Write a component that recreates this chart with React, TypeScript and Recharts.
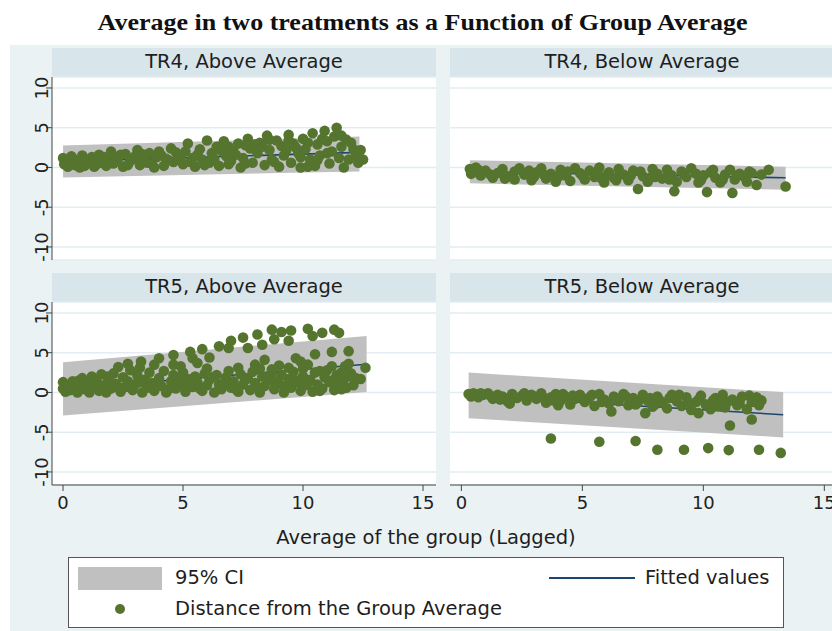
import {
  Area,
  CartesianGrid,
  ComposedChart,
  Line,
  Scatter,
  XAxis,
  YAxis,
} from "recharts";

const SANS = "'DejaVu Sans', sans-serif";
const BG = "#eaf2f3";
const STRIP = "#d8e5ea";
const DOT = "#55752f";
const FIT = "#1a476f";
const BAND = "#c0c0c0";
const AXIS = "#454545";

const yTicks = [-10, -5, 0, 5, 10];
const xTicks = [0, 5, 10, 15];
const yDomain: [number, number] = [-11.64, 11.38];

// TR4, Above Average
const tr4AbovePts = [
  [0, 1.2], [0.05, 0.4], [0.1, 0.9], [0.2, 0.1], [0.3, 0.6], [0.4, 1.1], [0.5, 0.3], [0.6, 0.8],
  [0.8, 1.5], [0.9, 0.2], [1.0, 0.7], [1.2, 1.3], [1.3, 0.1], [1.5, 1.6], [1.6, 0.6], [1.8, 0.2],
  [1.9, 1.0], [2.0, 2.0], [2.1, 0.5], [2.3, 1.2], [2.5, 0.1], [2.6, 1.7], [2.8, 0.8], [3.0, 1.4],
  [3.1, 2.2], [3.2, 0.3], [3.4, 1.0], [3.6, 1.8], [3.7, 0.5], [3.9, 1.3], [4.0, 2.0], [4.2, 0.2],
  [4.3, 1.1], [4.5, 2.4], [4.6, 0.7], [4.8, 1.6], [5.0, 0.4], [5.1, 2.0], [5.2, 3.0], [5.4, 1.2],
  [5.5, 0.1], [5.7, 2.3], [5.8, 1.0], [6.0, 3.4], [6.1, 0.6], [6.2, 1.8], [6.4, 2.6], [6.5, 0.2],
  [6.7, 3.3], [6.8, 1.4], [7.0, 0.8], [7.1, 2.0], [7.3, 3.0], [7.4, 0.0], [7.5, 1.2], [7.7, 3.6],
  [7.8, 2.4], [7.9, 0.6], [8.1, 1.8], [8.2, 3.1], [8.4, 0.3], [8.5, 4.0], [8.6, 2.2], [8.7, 1.0],
  [8.9, 3.4], [9.0, 0.1], [9.1, 2.7], [9.2, 1.5], [9.4, 4.1], [9.5, 0.6], [9.6, 3.0], [9.8, 1.8],
  [9.9, 0.0], [10.0, 3.6], [10.1, 2.3], [10.3, 1.0], [10.4, 4.3], [10.5, 0.2], [10.6, 2.9],
  [10.7, 1.5], [10.9, 4.6], [11.0, 3.3], [11.1, 0.5], [11.2, 2.0], [11.3, 3.9], [11.4, 5.0],
  [11.5, 1.2], [11.6, 2.6], [11.7, 0.0], [11.8, 3.5], [11.9, 1.0], [12.1, 2.3], [12.3, 0.6],
  [12.5, 1.0], [12.2, 1.5], [10.2, 3.1], [9.7, 2.5], [8.3, 2.6],
  [0.15, 0.6], [0.35, 1.4], [0.7, 0.0], [1.1, 1.0], [1.4, 0.4], [1.7, 1.3], [2.2, 0.9], [2.4, 1.6],
  [2.7, 0.3], [2.9, 1.1], [3.3, 1.7], [3.5, 0.6], [3.8, 0.0], [4.1, 1.5], [4.4, 0.9], [4.7, 1.9],
  [4.9, 1.2], [5.3, 0.7], [5.6, 1.6], [5.9, 0.3], [6.3, 1.1], [6.6, 2.1], [6.9, 0.4], [7.2, 1.6],
  [7.6, 0.5], [8.0, 2.9], [8.8, 0.7], [9.3, 2.2], [9.9, 1.3], [10.6, 0.9], [10.8, 3.6],
  [11.0, 1.8], [11.6, 4.0], [12.0, 3.1], [12.4, 2.2], [10.2, 0.1], [9.4, 3.4], [8.6, 3.5],
  [7.6, 2.8], [6.9, 2.6],
];
const tr4AboveCiX = [0, 12.35];
const tr4AboveLow = [-1.25, -0.5];
const tr4AboveHigh = [2.75, 3.9];
const tr4AboveFit = [0.75, 1.9];

// TR4, Below Average
const tr4BelowPts = [
  [0.35, -0.2], [0.5, -0.6], [0.6, 0.0], [0.8, -1.0], [1.0, -0.4], [1.3, -1.3], [1.5, -0.7],
  [1.7, -0.2], [2.0, -1.1], [2.2, -0.5], [2.4, -0.1], [2.6, -0.9], [2.9, -1.6], [3.1, -0.6],
  [3.3, -0.1], [3.5, -1.4], [3.7, -0.8], [3.9, -1.8], [4.1, -0.3], [4.3, -1.0], [4.5, -1.7],
  [4.7, -0.1], [4.9, -0.7], [5.1, -1.5], [5.3, -0.4], [5.5, -1.2], [5.7, 0.0], [5.9, -1.9],
  [6.1, -0.6], [6.3, -1.3], [6.5, -0.2], [6.7, -0.9], [6.9, -1.6], [7.1, -0.4], [7.3, -2.7],
  [7.5, -1.1], [7.7, -1.8], [7.9, -0.2], [8.1, -0.8], [8.3, -1.4], [8.5, -0.3], [8.7, -1.0],
  [8.8, -3.0], [8.9, -1.8], [9.1, -0.5], [9.3, -1.2], [9.5, -0.1], [9.7, -0.8], [9.9, -1.6],
  [10.15, -3.1], [10.3, -0.6], [10.5, -1.3], [10.7, -1.9], [10.9, -0.9], [11.1, -0.3],
  [11.2, -3.2], [11.3, -1.5], [11.5, -0.8], [11.7, -1.2], [11.9, -0.5], [12.2, -2.2],
  [12.7, -0.3], [13.4, -2.4], [6.0, -1.0], [4.0, -1.2], [2.2, -1.5], [10.0, -1.0], [8.0, -1.2],
  [0.4, -0.8], [0.7, -0.3], [1.2, -0.9], [1.8, -1.4], [2.8, -0.4], [3.4, -0.9], [4.4, -0.5],
  [5.0, -1.0], [5.6, -0.6], [6.4, -1.6], [7.0, -1.0], [7.4, -0.5], [8.6, -1.5], [9.2, -0.9],
  [9.8, -1.9], [10.4, -0.3], [10.8, -1.5], [11.4, -1.0], [11.8, -1.8], [12.0, -0.7],
  [12.4, -0.9], [3.0, -1.2], [5.8, -1.4], [7.8, -1.3],
];
const tr4BelowCiX = [0.35, 13.4];
const tr4BelowLow = [-2.0, -2.8];
const tr4BelowHigh = [0.9, 0.1];
const tr4BelowFit = [-0.5, -1.3];

// TR5, Above Average
const tr5AbovePts = [
  [0, 1.3], [0, 0.5], [0.1, 0.1], [0.2, 0.9], [0.3, 0.3], [0.4, 1.4], [0.5, 0.6], [0.6, 0.0],
  [0.7, 1.0], [0.8, 1.8], [0.9, 0.4], [1.0, 1.2], [1.1, 0.0], [1.2, 2.0], [1.3, 0.7], [1.4, 1.5],
  [1.5, 0.2], [1.6, 2.3], [1.7, 0.9], [1.8, 0.0], [1.9, 1.6], [2.0, 0.5], [2.1, 2.4], [2.2, 1.1],
  [2.4, 0.1], [2.5, 1.9], [2.6, 0.7], [2.7, 1.4], [2.8, 2.8], [2.9, 0.3], [3.0, 1.0], [3.1, 2.1],
  [3.3, 0.0], [3.4, 1.6], [3.5, 0.6], [3.6, 2.5], [3.7, 1.2], [3.8, 0.2], [4.0, 1.8], [4.1, 0.8],
  [4.2, 2.7], [4.3, 0.0], [4.5, 1.4], [4.6, 2.2], [4.7, 0.5], [4.9, 1.1], [5.0, 2.5], [5.1, 0.1],
  [5.2, 1.7], [5.4, 0.7], [5.5, 2.0], [5.6, 1.3], [5.8, 0.2], [5.9, 2.4], [6.0, 0.9], [6.1, 1.6],
  [6.3, 0.0], [6.4, 2.2], [6.5, 1.0], [6.6, 0.4], [6.8, 1.9], [6.9, 2.7], [7.0, 0.6], [7.1, 1.4],
  [7.3, 0.1], [7.4, 2.3], [7.5, 1.0], [7.7, 1.8], [7.8, 0.3], [7.9, 2.6], [8.0, 1.2], [8.2, 0.0],
  [8.3, 2.0], [8.4, 0.8], [8.6, 1.5], [8.7, 2.9], [8.8, 0.4], [9.0, 1.1], [9.1, 2.2], [9.2, 0.0],
  [9.4, 1.7], [9.5, 0.6], [9.6, 2.6], [9.8, 1.3], [9.9, 0.2], [10.0, 2.0], [10.1, 0.9],
  [10.3, 1.6], [10.4, 0.1], [10.5, 2.5], [10.6, 1.0], [10.8, 0.5], [10.9, 1.9], [11.0, 2.8],
  [11.1, 1.3], [11.3, 0.3], [11.4, 2.2], [11.5, 1.0], [11.7, 1.6], [11.8, 0.6], [12.0, 2.4],
  [12.2, 1.8],
  [2.3, 3.2], [2.7, 3.6], [3.2, 3.1], [3.25, 3.9], [3.8, 3.5], [4.0, 4.3], [4.6, 3.5], [4.6, 4.7],
  [5.3, 5.1], [5.4, 4.3], [5.8, 5.45], [6.1, 4.4], [6.5, 5.8], [6.9, 5.6], [7.0, 6.5], [7.3, 3.1],
  [7.5, 6.9], [7.7, 5.6], [8.0, 3.5], [8.1, 7.3], [8.3, 6.0], [8.4, 4.1], [8.7, 7.9], [8.7, 2.5],
  [8.8, 6.7], [9.1, 7.6], [9.4, 6.5], [9.4, 3.1], [9.5, 7.8], [9.7, 4.3], [10.2, 8.0], [10.2, 3.5],
  [10.4, 7.1], [10.5, 4.8], [10.8, 7.5], [11.2, 5.1], [11.2, 3.3], [11.3, 7.9], [11.5, 7.5],
  [11.6, 0.4], [11.75, 3.3], [11.9, 5.2], [12.0, 2.0], [12.6, 3.1], [11.7, 0.8], [9.0, 3.4],
  [9.9, 3.9], [10.7, 2.7], [11.9, 3.6],
  [0.25, 0.6], [0.65, 1.5], [1.05, 0.5], [1.45, 0.9], [1.85, 2.0], [2.3, 0.6], [2.75, 1.0],
  [3.2, 1.3], [3.9, 0.9], [4.4, 0.4], [4.8, 1.7], [5.3, 1.0], [5.7, 0.5], [6.2, 1.9], [6.7, 1.2],
  [7.2, 0.4], [7.6, 1.6], [8.1, 0.6], [8.5, 1.9], [8.9, 1.4], [9.3, 0.9], [9.7, 1.5], [10.2, 1.2],
  [10.7, 0.2], [11.2, 1.5], [11.6, 2.5], [12.1, 0.9], [12.4, 1.7], [10.0, 3.0], [8.2, 3.0],
  [6.0, 3.0], [5.6, 3.7], [4.9, 3.3],
];
const tr5AboveCiX = [0, 12.65];
const tr5AboveLow = [-2.9, 0.05];
const tr5AboveHigh = [3.8, 7.1];
const tr5AboveFit = [0.45, 3.55];

// TR5, Below Average
const tr5BelowPts = [
  [0.3, -0.2], [0.5, -0.1], [0.7, -0.6], [0.9, -0.3], [1.1, -0.1], [1.3, -0.8], [1.5, -0.3],
  [1.7, -0.5], [1.9, -1.1], [2.1, -0.2], [2.3, -0.7], [2.5, -0.4], [2.7, -1.0], [2.9, -0.3],
  [3.1, -0.8], [3.3, -0.1], [3.5, -1.3], [3.7, -0.6], [3.9, -0.2], [4.1, -1.0], [4.3, -0.5],
  [4.5, -1.5], [4.7, -0.8], [4.9, -0.3], [5.1, -1.2], [5.3, -0.6], [5.5, -1.7], [5.7, -0.2],
  [5.9, -0.9], [6.1, -1.4], [6.2, -2.4], [6.3, -0.5], [6.5, -1.1], [6.7, -0.2], [6.9, -1.6],
  [7.1, -0.7], [7.3, -1.2], [7.5, -0.3], [7.6, -2.6], [7.7, -1.0], [7.9, -1.8], [8.1, -0.5],
  [8.3, -1.3], [8.5, -2.0], [8.7, -0.3], [8.9, -1.1], [9.1, -1.7], [9.3, -0.6], [9.5, -2.2],
  [9.7, -1.2], [9.9, -0.4], [10.1, -1.5], [10.3, -2.1], [10.5, -0.7], [10.7, -1.3], [10.9, -1.9],
  [11.1, -4.15], [11.2, -0.9], [11.4, -1.6], [11.6, -0.5], [11.8, -2.1], [12.0, -3.4],
  [12.0, -1.2], [12.2, -0.6], [12.4, -1.0], [8.0, -1.5], [4.0, -1.6], [9.8, -2.6], [2.0, -1.4],
  [10.8, -0.3],
  [0.4, -0.5], [0.8, -0.1], [1.2, -0.4], [1.6, -0.9], [2.2, -0.6], [2.6, -0.1], [3.0, -0.5],
  [3.4, -0.7], [3.8, -1.0], [4.2, -0.2], [4.6, -0.4], [5.0, -0.7], [5.4, -0.3], [5.8, -1.2],
  [6.4, -0.8], [6.8, -0.5], [7.2, -1.5], [7.8, -0.7], [8.2, -1.0], [8.6, -0.7], [9.0, -0.3],
  [9.4, -1.3], [9.8, -0.9], [10.4, -1.0], [10.6, -1.7], [11.0, -1.2], [11.5, -1.3],
  [11.9, -0.4], [12.3, -1.6],
  [3.7, -5.8], [5.7, -6.2], [7.2, -6.1], [8.1, -7.2], [9.2, -7.2], [10.2, -7.0], [11.05, -7.25],
  [12.3, -7.2], [13.2, -7.6],
];
const tr5BelowCiX = [0.3, 13.3];
const tr5BelowLow = [-3.25, -5.65];
const tr5BelowHigh = [2.5, 0.05];
const tr5BelowFit = [-0.4, -2.8];

type PanelProps = {
  title: string;
  pts: number[][];
  ciX: number[];
  low: number[];
  high: number[];
  fit: number[];
  left: number;
  top: number;
  showY: boolean;
  showX: boolean;
  xDomain: [number, number];
};

const YTick = (props: any) => {
  const { x, y, payload } = props;
  const bx = x + 4;
  return (
    <text
      x={bx}
      y={y}
      transform={`rotate(-90 ${bx} ${y})`}
      textAnchor="middle"
      fontSize={18}
      fontFamily={SANS}
      fill="#222"
    >
      {payload.value}
    </text>
  );
};

const Dot = (props: any) => (
  <circle cx={props.cx} cy={props.cy} r={5.3} fill={DOT} />
);

// extra room above/below the plot so rotated tick labels are not clipped
const PAD = 14;

function Panel(p: PanelProps) {
  const yW = p.showY ? 40 : 0;
  const plotW = 384;
  const plotH = 183;
  const xH = p.showX ? 45 : 0;
  const rows = p.ciX.map((x, i) => ({
    x,
    ci: [p.low[i], p.high[i]],
    fit: p.fit[i],
  }));
  const scatter = p.pts.map(([x, y]) => ({ x, y }));
  return (
    <>
      <div
        style={{
          position: "absolute",
          left: p.left + yW,
          top: p.top - 29,
          width: plotW,
          height: 29,
          background: STRIP,
          fontFamily: SANS,
          fontSize: 19.5,
          color: "#1e1e1e",
          textAlign: "center",
          lineHeight: "28px",
        }}
      >
        {p.title}
      </div>
      <div style={{ position: "absolute", left: p.left, top: p.top - PAD }}>
        <ComposedChart
          width={yW + plotW}
          height={plotH + xH + PAD + (p.showX ? 0 : PAD)}
          data={rows}
          margin={{ top: PAD, right: 0, bottom: p.showX ? 0 : PAD, left: 0 }}
        >
          <CartesianGrid
            horizontal
            vertical={false}
            fill="#ffffff"
            fillOpacity={1}
            stroke="#e3edf1"
            strokeWidth={1.5}
          />
          <XAxis
            dataKey="x"
            type="number"
            domain={p.xDomain}
            allowDataOverflow
            ticks={xTicks}
            hide={!p.showX}
            height={xH}
            tickSize={6}
            tickMargin={5}
            stroke={AXIS}
            tick={{ fill: "#222", fontSize: 18, fontFamily: SANS }}
          />
          <YAxis
            type="number"
            domain={yDomain}
            allowDataOverflow
            ticks={yTicks}
            hide={!p.showY}
            width={yW}
            tickSize={6}
            tickMargin={2}
            stroke={AXIS}
            tick={<YTick />}
          />
          <Area
            dataKey="ci"
            type="linear"
            fill={BAND}
            fillOpacity={1}
            stroke="none"
            isAnimationActive={false}
          />
          <Line
            dataKey="fit"
            type="linear"
            stroke={FIT}
            strokeWidth={1.6}
            dot={false}
            isAnimationActive={false}
          />
          <Scatter
            data={scatter}
            dataKey="y"
            shape={<Dot />}
            isAnimationActive={false}
          />
        </ComposedChart>
      </div>
    </>
  );
}

export default function App() {
  return (
    <div
      style={{
        position: "absolute",
        left: 0,
        top: 0,
        width: 832,
        height: 631,
        overflow: "hidden",
        background: "#ffffff",
      }}
    >
      <div
        style={{
          position: "absolute",
          left: 10,
          top: 45,
          width: 822,
          height: 586,
          background: BG,
        }}
      />
      <div
        style={{
          position: "absolute",
          left: 0,
          top: 10,
          width: 846,
          textAlign: "center",
          fontFamily: "'Liberation Serif', serif",
          fontWeight: "bold",
          fontSize: 23,
          color: "#111",
        }}
      >
        <span style={{ display: "inline-block", transform: "scaleX(1.13)" }}>
          Average in two treatments as a Function of Group Average
        </span>
      </div>

      <Panel
        title="TR4, Above Average"
        pts={tr4AbovePts}
        ciX={tr4AboveCiX}
        low={tr4AboveLow}
        high={tr4AboveHigh}
        fit={tr4AboveFit}
        left={12}
        top={77}
        showY
        showX={false}
        xDomain={[-0.46, 15.54]}
      />
      <Panel
        title="TR4, Below Average"
        pts={tr4BelowPts}
        ciX={tr4BelowCiX}
        low={tr4BelowLow}
        high={tr4BelowHigh}
        fit={tr4BelowFit}
        left={450}
        top={77}
        showY={false}
        showX={false}
        xDomain={[-0.47, 15.4]}
      />
      <Panel
        title="TR5, Above Average"
        pts={tr5AbovePts}
        ciX={tr5AboveCiX}
        low={tr5AboveLow}
        high={tr5AboveHigh}
        fit={tr5AboveFit}
        left={12}
        top={302}
        showY
        showX
        xDomain={[-0.46, 15.54]}
      />
      <Panel
        title="TR5, Below Average"
        pts={tr5BelowPts}
        ciX={tr5BelowCiX}
        low={tr5BelowLow}
        high={tr5BelowHigh}
        fit={tr5BelowFit}
        left={450}
        top={302}
        showY={false}
        showX
        xDomain={[-0.47, 15.4]}
      />

      <div
        style={{
          position: "absolute",
          left: 0,
          top: 526,
          width: 852,
          textAlign: "center",
          fontFamily: SANS,
          fontSize: 19.5,
          color: "#1e1e1e",
        }}
      >
        Average of the group (Lagged)
      </div>

      <div
        style={{
          position: "absolute",
          left: 68,
          top: 557,
          width: 714,
          height: 69,
          background: "#ffffff",
          border: "1px solid #555",
          fontFamily: SANS,
          fontSize: 19.5,
          color: "#1e1e1e",
        }}
      >
        <div
          style={{
            position: "absolute",
            left: 9,
            top: 9,
            width: 84,
            height: 23,
            background: BAND,
          }}
        />
        <div style={{ position: "absolute", left: 106, top: 8, lineHeight: "24px" }}>
          95% CI
        </div>
        <div
          style={{
            position: "absolute",
            left: 480,
            top: 19,
            width: 86,
            height: 2,
            background: FIT,
          }}
        />
        <div style={{ position: "absolute", left: 576, top: 8, lineHeight: "24px" }}>
          Fitted values
        </div>
        <div
          style={{
            position: "absolute",
            left: 46,
            top: 46,
            width: 10,
            height: 10,
            borderRadius: 5,
            background: DOT,
          }}
        />
        <div style={{ position: "absolute", left: 106, top: 39, lineHeight: "24px" }}>
          Distance from the Group Average
        </div>
      </div>
    </div>
  );
}
